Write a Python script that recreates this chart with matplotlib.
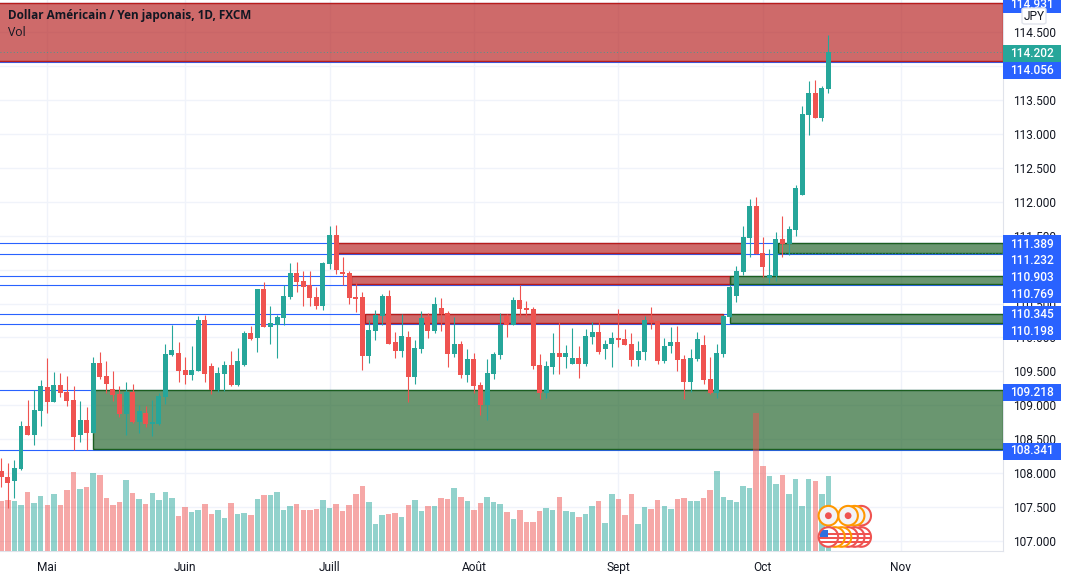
import numpy as np
import matplotlib
matplotlib.use('Agg')
import matplotlib.pyplot as plt
from matplotlib.patches import Rectangle, Circle, FancyBboxPatch

plt.rcParams['font.family'] = ['Roboto', 'DejaVu Sans']

# daily candles
opens = [108.03,107.95,107.88,108.06,108.69,108.56,108.91,109.27,109.05,109.30,
         109.19,109.08,108.56,108.79,108.59,109.62,109.43,109.24,109.16,108.87,
         109.19,108.75,108.88,108.72,108.72,109.12,109.74,109.77,109.52,109.44,
         109.50,110.26,109.58,109.22,109.46,109.59,109.30,109.59,110.06,109.99,
         110.71,110.15,110.19,110.28,110.59,110.95,110.83,110.77,110.59,110.46,
         111.08,111.51,110.95,110.95,110.59,110.59,109.72,110.09,110.31,110.61,
         109.93,109.80,110.00,109.41,109.83,110.30,110.09,110.44,110.36,109.75,
         109.91,109.44,109.68,109.30,109.00,109.46,109.74,110.31,110.19,110.55,
         110.43,110.42,109.59,109.18,109.56,109.77,109.71,109.61,109.69,109.61,
         110.00,110.08,109.83,109.90,109.99,109.97,109.90,109.67,109.78,110.26,
         110.24,109.65,109.87,109.93,109.68,109.35,109.68,109.89,109.38,109.18,
         109.75,110.30,110.61,110.96,111.46,111.93,111.24,110.87,110.90,111.45,
         111.37,111.58,112.10,113.28,113.60,113.23,113.66]
highs = [108.23,108.15,108.19,108.77,109.08,109.22,109.37,109.70,109.49,109.47,
         109.43,109.28,109.06,108.97,109.71,109.78,109.65,109.50,109.28,109.34,
         109.31,109.00,108.99,109.08,109.18,109.91,110.19,109.93,109.71,109.88,
         110.31,110.33,109.63,109.56,109.65,109.80,109.84,110.09,110.17,110.71,
         110.81,110.47,110.33,110.78,111.09,111.11,110.98,110.98,110.75,111.11,
         111.64,111.65,111.18,110.98,110.81,110.67,110.26,110.40,110.64,110.70,
         110.08,110.34,110.09,109.96,110.39,110.36,110.59,110.58,110.39,110.30,
         109.94,109.83,109.77,109.34,109.68,109.78,110.36,110.34,110.59,110.78,
         110.53,110.45,109.75,109.65,110.06,110.22,109.89,110.14,109.87,110.12,
         110.22,110.26,109.96,110.08,110.42,110.12,110.06,109.94,110.31,110.45,
         110.26,109.99,110.15,110.17,109.74,109.83,110.08,110.03,109.71,109.90,
         110.33,110.77,111.06,111.64,112.04,112.07,111.48,111.30,111.55,111.79,
         111.64,112.24,113.41,113.78,113.79,113.70,114.45]
lows = [107.79,107.49,107.63,108.04,108.56,108.41,108.69,108.88,109.05,109.12,
        108.99,108.34,108.46,108.34,108.59,109.38,109.18,109.06,108.82,108.56,
        108.74,108.59,108.68,108.54,108.71,109.02,109.72,109.34,109.31,109.37,
        109.50,109.34,109.16,109.19,109.21,109.28,109.28,109.58,109.96,109.78,
        110.15,109.91,109.69,110.19,110.56,110.67,110.46,110.47,110.42,110.40,
        111.01,110.93,110.77,110.50,110.37,109.52,109.63,109.96,110.18,109.91,
        109.69,109.71,109.05,109.31,109.77,109.99,110.06,110.09,109.56,109.71,
        109.40,109.34,109.18,108.85,108.78,109.38,109.68,110.00,110.18,110.30,
        110.30,109.53,109.09,109.10,109.46,109.46,109.55,109.61,109.40,109.58,
        109.91,109.75,109.68,109.56,109.86,109.89,109.58,109.58,109.67,110.12,
        109.61,109.62,109.77,109.50,109.09,109.19,109.65,109.31,109.16,109.10,
        109.71,110.30,110.52,110.92,111.18,111.23,110.89,110.80,110.83,111.18,
        111.21,111.49,112.10,112.98,113.23,113.19,113.60]
closes = [107.94,107.85,108.07,108.69,108.56,108.93,109.28,109.05,109.30,109.18,
          109.06,108.53,108.79,108.59,109.62,109.41,109.31,109.15,108.87,109.19,
          108.75,108.91,108.72,108.73,109.13,109.75,109.81,109.50,109.44,109.52,
          110.26,109.46,109.22,109.47,109.59,109.30,109.65,110.06,109.97,110.71,
          110.15,110.21,110.30,110.61,110.95,110.81,110.75,110.58,110.46,111.09,
          111.51,110.99,110.93,110.58,110.57,109.72,110.11,110.33,110.61,109.91,
          109.80,110.02,109.41,109.84,110.28,110.09,110.49,110.34,109.75,109.91,
          109.44,109.68,109.28,109.00,109.47,109.75,110.19,110.19,110.55,110.42,
          110.40,109.58,109.18,109.58,109.77,109.71,109.77,109.69,109.61,110.02,
          110.08,109.78,109.91,109.99,109.96,109.89,109.67,109.80,110.26,110.23,
          109.65,109.87,109.93,109.67,109.35,109.69,109.97,109.37,109.18,109.77,
          110.31,110.74,110.98,111.48,111.93,111.23,111.04,110.92,111.45,111.37,
          111.60,112.20,113.29,113.60,113.23,113.67,114.20]
volumes = [151,153,150,138,177,144,165,138,171,138,183,237,186,192,234,228,159,138,147,213,
           174,156,141,174,153,177,159,105,132,117,123,141,111,123,99,144,111,114,108,156,
           168,168,177,123,135,141,123,123,126,153,129,141,120,138,171,195,147,81,108,111,
           114,102,138,153,120,135,135,159,156,189,162,150,123,144,162,147,141,117,96,123,
           87,87,120,129,123,162,120,117,102,111,135,150,84,171,156,108,171,81,132,126,
           153,135,126,156,159,150,150,159,183,240,162,153,147,195,189,413,255,225,201,228,
           171,216,135,216,210,171,225]

month_labels = ['Mai', 'Juin', 'Juill', 'Août', 'Sept', 'Oct', 'Nov']
month_idx = [7, 28, 50, 72, 94, 116, 137]
price_ticks = [107, 107.5, 108, 108.5, 109, 109.5, 110, 110.5, 111, 111.5, 112, 112.5, 113, 113.5, 114, 114.5]

# drawn zones: low, high, first bar, last bar (None = runs to the scale)
red_zones = [(114.056, 114.931, -1, None), (111.232, 111.389, 51.2, 113),
             (110.769, 110.903, 53.2, 111), (110.198, 110.345, 55.4, 110)]
green_zones = [(111.232, 111.389, 118.3, None), (110.769, 110.903, 111, None),
               (110.198, 110.345, 111, None), (108.341, 109.218, 14, None)]
levels = [114.931, 114.056, 111.389, 111.232, 110.903, 110.769, 110.345, 110.198, 109.218, 108.341]
last_price = 114.202

# calendar events ahead of the last bar
top_events = [126, 129, 130, 131]
top_event_rings = ['#ff9800', '#ff9800', '#ff9800', '#ef5350']
flag_events = [126, 127, 128, 129, 130, 131]
flag_event_rings = ['#ef5350', '#ff9800', '#ff9800', '#ef5350', '#ef5350', '#ef5350']

UP = '#26a69a'
DOWN = '#ef5350'
BLUE = '#2962ff'
W, H = 1066, 579
AX_R, AX_B = 1003, 551
PX = 0.014738  # price per pixel

fig = plt.figure(figsize=(W / 100, H / 100), dpi=100, facecolor='white')
ax = fig.add_axes([0, 1 - AX_B / H, AX_R / W, AX_B / H])
x = np.arange(len(opens))
xmax = 152.6
ymin = 114.973 - AX_B * PX
ax.set_xlim(-0.2, xmax)
ax.set_ylim(ymin, 114.973)

for s in ['top', 'left']:
    ax.spines[s].set_visible(False)
ax.spines['right'].set_color('#e0e3eb')
ax.spines['bottom'].set_color('#e0e3eb')
ax.yaxis.tick_right()
ax.set_yticks(price_ticks)
ax.set_yticklabels(['%.3f' % p for p in price_ticks], fontsize=8.6, color='#131722')
ax.set_xticks(month_idx)
ax.set_xticklabels(month_labels, fontsize=8.6, color='#131722')
ax.tick_params(length=0, pad=7)
ax.grid(color='#f0f3fa', linewidth=1)
ax.set_axisbelow(True)

for lev in levels:
    ax.axhline(lev, color=BLUE, linewidth=0.8, zorder=2)

for zones, face, edge in [(red_zones, '#b51a1a', '#b71c1c'), (green_zones, '#1b5e23', '#1b5e20')]:
    for lo, hi, start, end in zones:
        stop = xmax if end is None else end
        ax.add_patch(Rectangle((start, lo + 0.012), stop - start, hi - lo - 0.012, facecolor=face, alpha=0.65,
                               edgecolor='none', zorder=3))
        ax.add_patch(Rectangle((start, lo + 0.012), stop - start, hi - lo - 0.012, facecolor='none',
                               edgecolor=edge, linewidth=1.0, zorder=3))

ax.axhline(last_price, color=UP, linewidth=0.6, linestyle=(0, (1, 3)), zorder=3.5)
ax.hlines(111.245, 118.3, xmax, color=UP, linewidth=0.6, linestyles=[(0, (1, 3))], zorder=3.5)

# volume sits on top of the zones, 3 units per pixel of height
colors = [UP if c >= o else DOWN for o, c in zip(opens, closes)]
ax.bar(x, np.array(volumes) * PX / 3, bottom=ymin, width=0.84, color=colors, alpha=0.5, linewidth=0, zorder=4)

# candles
ax.vlines(x, lows, highs, colors=colors, linewidth=0.8, zorder=5)
bottoms = np.minimum(opens, closes)
heights = np.maximum(np.abs(np.array(closes) - np.array(opens)), 0.03)
ax.bar(x, heights, bottom=bottoms, width=0.76, color=colors, linewidth=0, zorder=6)

# overlay in pixels for the event icons
over = fig.add_axes([0, 0, 1, 1], zorder=5)
over.set_xlim(0, W)
over.set_ylim(H, 0)
over.axis('off')
over.patch.set_visible(False)


def bar_px(i):
    return ax.transData.transform((i, ymin))[0]


for i, ring in list(zip(top_events, top_event_rings))[::-1]:
    cx = bar_px(i)
    over.add_patch(Circle((cx, 515.7), 9.8, facecolor='#f3f3f5', edgecolor=ring, linewidth=1.5))
    over.add_patch(Circle((cx, 515.7), 3.4, facecolor=DOWN, edgecolor='none'))

for i, ring in list(zip(flag_events, flag_event_rings))[::-1]:
    cx = bar_px(i)
    disc = Circle((cx, 537), 9.8, facecolor='white', edgecolor='none')
    over.add_patch(disc)
    for dy in [-4.5, -0.5, 4]:
        stripe = Rectangle((cx - 10, 537 + dy), 20, 2.2, facecolor=DOWN, edgecolor='none')
        over.add_patch(stripe)
        stripe.set_clip_path(disc)
    if i == flag_events[0]:
        canton = Rectangle((cx - 8, 530), 8, 7, facecolor='#2f6fe0', edgecolor='none')
        over.add_patch(canton)
        canton.set_clip_path(disc)
    over.add_patch(Circle((cx, 537), 9.8, facecolor='none', edgecolor=ring, linewidth=1.5))


def box(px_left, px_top, px_w, px_h, **kw):
    fig.add_artist(Rectangle((px_left / W, 1 - (px_top + px_h) / H), px_w / W, px_h / H,
                             transform=fig.transFigure, **kw))


# price tags, pushed apart like the scale does it
tags = [('114.931', 4, BLUE), ('114.202', 53.5, UP), ('114.056', 70.5, BLUE), ('111.389', 244, BLUE),
        ('111.232', 260.5, BLUE), ('110.903', 277.5, BLUE), ('110.769', 294, BLUE),
        ('110.345', 314.5, BLUE), ('110.198', 331.5, BLUE), ('109.218', 392, BLUE), ('108.341', 451, BLUE)]
for txt, py, col in tags:
    box(AX_R, py - 8.5, 58, 17, facecolor=col, edgecolor='none', zorder=10)
    fig.text(1032 / W, 1 - py / H, txt, color='white', fontsize=8.6, fontweight='medium',
             ha='center', va='center', zorder=11)

fig.add_artist(FancyBboxPatch((1022 / W, 1 - 24 / H), 24 / W, 16 / H, transform=fig.transFigure,
                              boxstyle='round,pad=0,rounding_size=0.003', facecolor='white',
                              edgecolor='#e0e3eb', linewidth=1, zorder=12))
fig.text(1034 / W, 1 - 16 / H, 'JPY', color='#131722', fontsize=8.6, ha='center', va='center', zorder=13)

fig.text(8 / W, 1 - 16 / H, 'Dollar Américain / Yen japonais, 1D, FXCM', color='#131722', fontsize=8.5,
         family='Open Sans', fontweight='bold', va='center', zorder=13)
fig.text(8 / W, 1 - 33 / H, 'Vol', color='#131722', fontsize=8.8, family='Open Sans', va='center', zorder=13)

fig.savefig('out.png', dpi=100)
